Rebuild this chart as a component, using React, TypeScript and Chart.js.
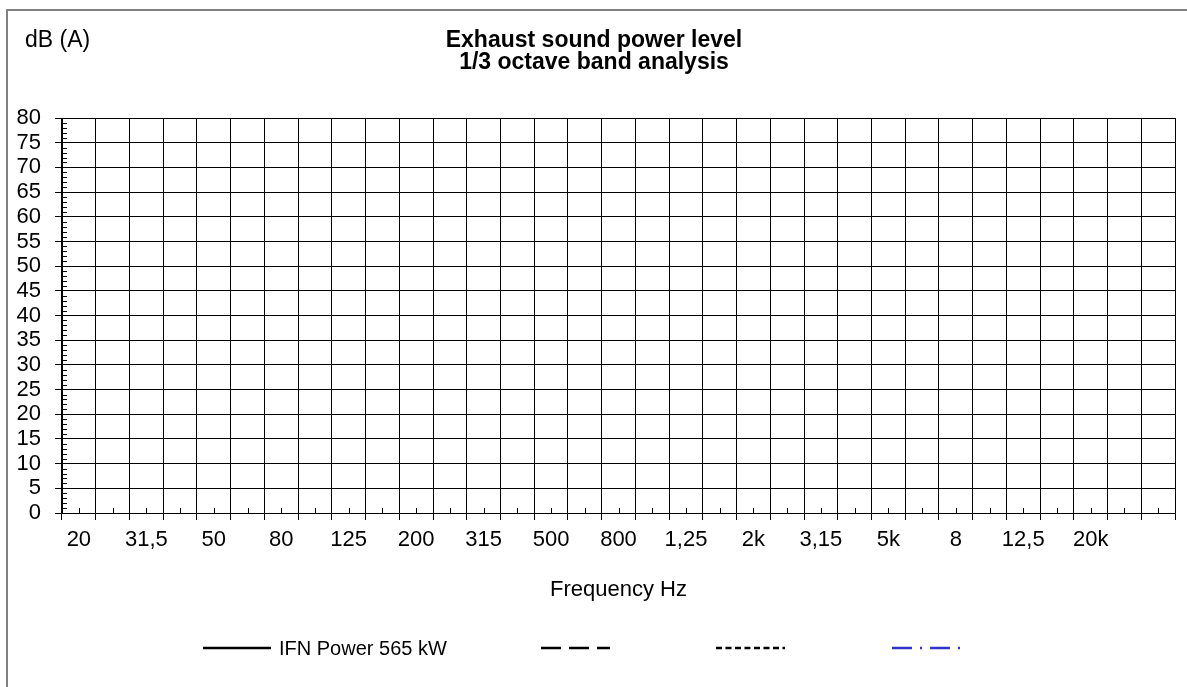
import React, { useEffect, useRef } from 'react';
import { Chart, registerables } from 'chart.js';

Chart.register(...registerables);

// ---- data ----
const bandLabels: string[] = [
  '20', '25', '31,5', '40', '50', '63', '80', '100', '125', '160', '200', '250',
  '315', '400', '500', '630', '800', '1k', '1,25', '1,6', '2k', '2,5', '3,15', '4',
  '5k', '6,3', '8', '10', '12,5', '16', '20k', '', '',
];
const yMin = 0;
const yMax = 80;
const yStep = 5;
const yMinorStep = 1;

const titleLines: string[] = ['Exhaust sound power level', '1/3 octave band analysis'];
const yUnitLabel = 'dB (A)';
const xAxisTitle = 'Frequency Hz';

const seriesNames: string[] = ['IFN Power 565 kW', '', '', ''];
// no measured values are plotted in the reference
const ifnPower565: (number | null)[] = [];
const series2: (number | null)[] = [];
const series3: (number | null)[] = [];
const series4: (number | null)[] = [];

const seriesColors: string[] = ['#000000', '#000000', '#000000', '#3333CC'];
const seriesDashes: number[][] = [[], [20, 8], [6, 3.5], [20, 8, 2, 8]];

const FONT = 'Arial, "Liberation Sans", sans-serif';

const legendSlots = [
  { x0: 203, x1: 271 },
  { x0: 541, x1: 610 },
  { x0: 716, x1: 785 },
  { x0: 892, x1: 961 },
];

const decorPlugin = {
  id: 'decor',
  afterDraw(chart: any) {
    const ctx: CanvasRenderingContext2D = chart.ctx;
    const { left, bottom } = chart.chartArea;
    const xs = chart.scales.x;
    const ys = chart.scales.y;
    ctx.save();
    ctx.strokeStyle = '#000';
    ctx.lineWidth = 1;
    // y minor ticks
    for (let v = yMin; v <= yMax; v += yMinorStep) {
      if (v % yStep === 0) continue;
      const py = Math.round(ys.getPixelForValue(v)) + 0.5;
      ctx.beginPath();
      ctx.moveTo(left, py);
      ctx.lineTo(left + 5, py);
      ctx.stroke();
    }
    // x minor ticks at category centres
    for (let i = 0; i < bandLabels.length; i++) {
      const px = Math.round(xs.getPixelForValue(i)) + 0.5;
      ctx.beginPath();
      ctx.moveTo(px, bottom);
      ctx.lineTo(px, bottom - 5);
      ctx.stroke();
    }
    // titles
    ctx.fillStyle = '#000';
    ctx.textBaseline = 'alphabetic';
    ctx.textAlign = 'center';
    ctx.font = `bold 23px ${FONT}`;
    ctx.fillText(titleLines[0], 594, 47);
    ctx.fillText(titleLines[1], 594, 69);
    ctx.textAlign = 'left';
    ctx.font = `23px ${FONT}`;
    ctx.fillText(yUnitLabel, 25, 47);
    // legend
    const ly = 648;
    chart.data.datasets.forEach((ds: any, i: number) => {
      const slot = legendSlots[i];
      if (!slot) return;
      ctx.save();
      ctx.strokeStyle = ds.borderColor;
      ctx.lineWidth = ds.borderWidth;
      ctx.setLineDash(ds.borderDash || []);
      ctx.beginPath();
      ctx.moveTo(slot.x0, ly);
      ctx.lineTo(slot.x1, ly);
      ctx.stroke();
      ctx.restore();
      if (ds.label) {
        ctx.font = `20px ${FONT}`;
        ctx.textAlign = 'left';
        ctx.textBaseline = 'alphabetic';
        ctx.fillStyle = '#000';
        ctx.fillText(ds.label, slot.x1 + 8, 655);
      }
    });
    ctx.restore();
  },
};

export default function App() {
  const canvasRef = useRef<HTMLCanvasElement | null>(null);

  useEffect(() => {
    if (!canvasRef.current) return;
    Chart.defaults.font.family = FONT;
    const seriesData = [ifnPower565, series2, series3, series4];
    const chart = new Chart(canvasRef.current, {
      type: 'line',
      data: {
        labels: bandLabels,
        datasets: seriesData.map((d, i) => ({
          label: seriesNames[i],
          data: d,
          borderColor: seriesColors[i],
          backgroundColor: seriesColors[i],
          borderWidth: 2.5,
          borderDash: seriesDashes[i],
          pointRadius: 0,
          fill: false,
        })),
      },
      options: {
        animation: false,
        responsive: false,
        devicePixelRatio: 1,
        layout: { padding: { top: 118, right: 12, bottom: 0, left: 0 } },
        plugins: {
          legend: { display: false },
          title: { display: false },
          tooltip: { enabled: false },
        },
        scales: {
          x: {
            type: 'category',
            offset: true,
            grid: { offset: true, color: '#000', lineWidth: 1, tickLength: 7 },
            border: { color: '#000', width: 1 },
            ticks: {
              autoSkip: false,
              maxRotation: 0,
              minRotation: 0,
              padding: 7,
              color: '#000',
              font: { size: 22 },
              callback: (_v: any, i: number) => (i % 2 === 0 ? bandLabels[i] : ''),
            },
            title: {
              display: true,
              text: xAxisTitle,
              color: '#000',
              font: { size: 22 },
              padding: { top: 0, bottom: 84 },
            },
            afterFit: (s: any) => {
              s.height = 174;
            },
          },
          y: {
            min: yMin,
            max: yMax,
            grid: { color: '#000', lineWidth: 1, tickLength: 7 },
            border: { color: '#000', width: 1 },
            ticks: {
              stepSize: yStep,
              autoSkip: false,
              padding: 14,
              color: '#000',
              font: { size: 22 },
            },
            afterFit: (s: any) => {
              s.width = 62;
            },
          },
        },
      },
      plugins: [decorPlugin],
    } as any);
    return () => chart.destroy();
  }, []);

  return (
    <div
      style={{
        position: 'absolute',
        left: 0,
        top: 0,
        width: 1187,
        height: 687,
        overflow: 'hidden',
        background: '#fff',
      }}
    >
      <div
        style={{
          position: 'absolute',
          left: 6,
          top: 9,
          right: 0,
          bottom: 0,
          borderLeft: '2px solid #808080',
          borderTop: '2px solid #808080',
        }}
      />
      <canvas
        ref={canvasRef}
        width={1187}
        height={687}
        style={{ position: 'absolute', left: 0, top: 0 }}
      />
    </div>
  );
}
